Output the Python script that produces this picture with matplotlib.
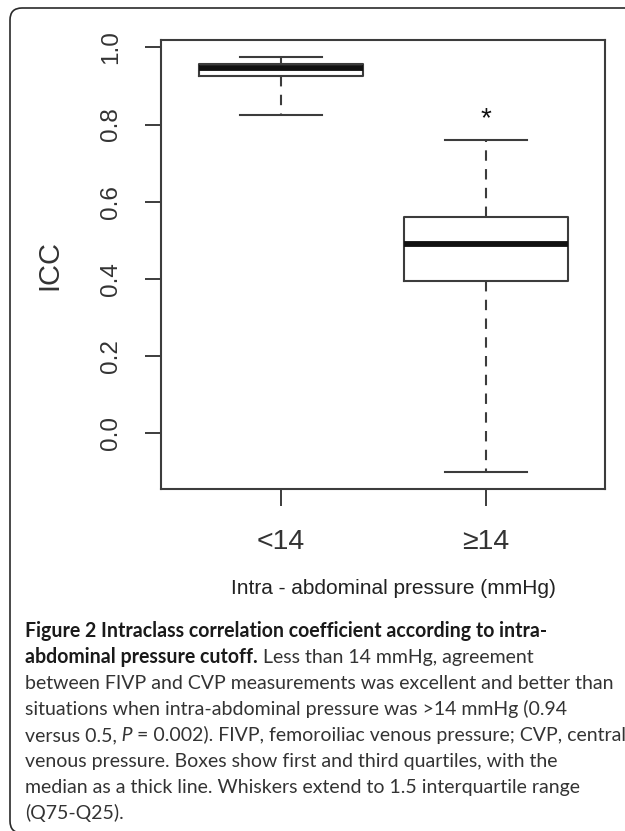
import numpy as np
import matplotlib.pyplot as plt
from matplotlib.patches import FancyBboxPatch
from matplotlib.transforms import IdentityTransform

# data
groups = ['<14', '\u226514']
q1 = [0.927, 0.395]
med = [0.946, 0.490]
q3 = [0.956, 0.560]
whislo = [0.824, -0.100]
whishi = [0.974, 0.760]
star_y = 0.815  # significance marker above group 2
yticks = [0.0, 0.2, 0.4, 0.6, 0.8, 1.0]

caption = [
    [("Figure 2 Intraclass correlation coefficient according to intra-", 'bold', 'normal')],
    [("abdominal pressure cutoff.", 'bold', 'normal'), (" Less than 14 mmHg, agreement", 'normal', 'normal')],
    [("between FIVP and CVP measurements was excellent and better than", 'normal', 'normal')],
    [("situations when intra-abdominal pressure was >14 mmHg (0.94", 'normal', 'normal')],
    [("versus 0.5,", 'normal', 'normal'), (" P", 'normal', 'italic'),
     (" = 0.002). FIVP, femoroiliac venous pressure; CVP, central", 'normal', 'normal')],
    [("venous pressure. Boxes show first and third quartiles, with the", 'normal', 'normal')],
    [("median as a thick line. Whiskers extend to 1.5 interquartile range", 'normal', 'normal')],
    [("(Q75-Q25).", 'normal', 'normal')],
]

plt.rcParams['font.family'] = ['Liberation Sans', 'DejaVu Sans']
W, H = 625, 831
lc = '#3c3c3c'
tc = '#333333'

fig = plt.figure(figsize=(W / 100, H / 100), dpi=100)
fig.patch.set_facecolor('white')

ax = fig.add_axes([160.6 / W, 1 - 489 / H, 444 / W, 449 / H])
stats = [dict(label=g, q1=a, med=m, q3=b, whislo=lo, whishi=hi, fliers=[])
         for g, a, m, b, lo, hi in zip(groups, q1, med, q3, whislo, whishi)]
ax.bxp(stats, positions=[1, 2], widths=0.8, capwidths=0.4, showfliers=False,
       boxprops=dict(color=lc, lw=1.5),
       whiskerprops=dict(color=lc, lw=1.5, ls=(0, (5, 4))),
       capprops=dict(color=lc, lw=1.5),
       medianprops=dict(color='#111111', lw=4.2, solid_capstyle='butt'))
ax.text(2, star_y, '*', ha='center', va='center', fontsize=20, color='#111111')

ax.set_xlim(0.413, 2.579)
ax.set_ylim(-0.144, 1.019)
ax.set_yticks(yticks)
ax.set_yticklabels(['%.1f' % v for v in yticks])
ax.set_xticks([1, 2])
ax.set_xticklabels(groups)
ax.tick_params(axis='y', length=11.5, width=1.4, pad=16, labelsize=17.5,
               labelrotation=90, color=lc, labelcolor=tc)
ax.tick_params(axis='x', length=12, width=1.4, pad=17, labelsize=20.5,
               color=lc, labelcolor=tc)
for lab in ax.get_yticklabels():
    lab.set_va('center')
for s in ax.spines.values():
    s.set_color(lc)
    s.set_linewidth(1.5)

fig.text(49 / W, 1 - 265 / H, 'ICC', rotation=90, ha='center', va='center',
         fontsize=21, color=tc)
fig.text(393 / W, 1 - 588 / H, 'Intra - abdominal pressure (mmHg)', ha='center',
         va='center', fontsize=15, color='#222222')

# outer rounded frame
frame = FancyBboxPatch((10, -2), 700, 825, boxstyle='round,pad=0,rounding_size=12',
                       transform=IdentityTransform(), fill=False, ec='#2a2a2a', lw=1.2)
fig.add_artist(frame)

# caption, sized so the widest line fits
renderer = fig.canvas.get_renderer()
probe = fig.text(0, 0, caption[2][0][0], fontsize=12, family='Lato')
csize = 12 * 589 / probe.get_window_extent(renderer).width
probe.remove()

baselines = [637, 663, 689, 715, 741, 767, 793, 819]
for line, yb in zip(caption, baselines):
    x = 25
    for txt, wt, st in line:
        t = fig.text(x / W, 1 - yb / H, txt, fontsize=csize, family='Lato',
                     fontweight=wt, fontstyle=st, va='baseline', ha='left',
                     color='#1a1a1a' if wt == 'bold' else '#333333')
        x = t.get_window_extent(renderer).x1

fig.savefig('out.png', dpi=100)
